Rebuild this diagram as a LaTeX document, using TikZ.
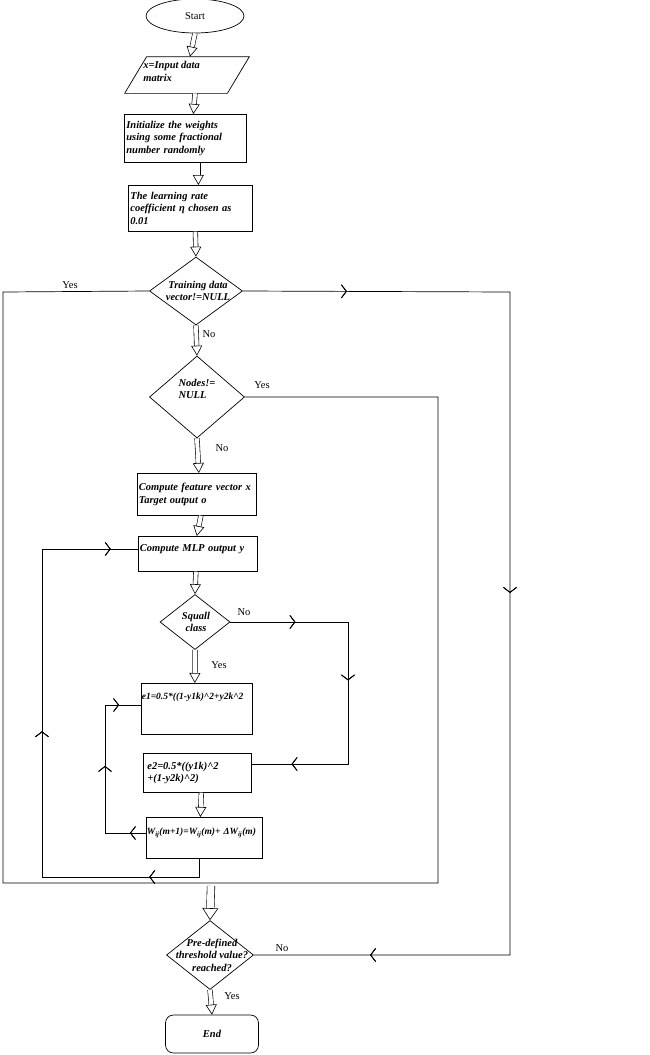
\documentclass[tikz,border=0pt]{standalone}
\usepackage{fontspec}
\setmainfont{Liberation Serif}
\usetikzlibrary{shapes.geometric,arrows.meta,decorations.markings}
\begin{document}
\begin{tikzpicture}[x=1pt,y=-1pt,line width=0.7pt,
  box/.style={draw,rectangle,anchor=north west,inner sep=1.5pt,align=left,font=\fontsize{10.5}{12.5}\selectfont\bfseries\itshape},
  dia/.style={draw,diamond,inner sep=0pt},
  dtext/.style={align=center,font=\fontsize{10.5}{12.5}\selectfont\bfseries\itshape,inner sep=0pt},
  lab/.style={font=\fontsize{10.5}{12}\selectfont,inner sep=0pt},
  harrow/.style={double distance=4pt,line width=0.6pt,-{Triangle[fill=white,length=10pt,width=11pt,line width=0.6pt]},shorten >=0pt},
  mk/.style={postaction=decorate,decoration={markings,mark=at position #1 with {\arrow[line width=0.7pt]{Straight Barb[length=5pt,width=13pt]}}}}]
\useasboundingbox (0,0) rectangle (649,1055);
% nodes
\node[draw,ellipse,minimum width=98pt,minimum height=34pt,inner sep=0pt,font=\fontsize{10.5}{12}\selectfont] (start) at (195,16) {Start};
\node[minimum width=100pt,minimum height=36pt,inner sep=0pt] (inp) at (187,75) {};
\draw ([xshift=10pt]inp.north west) -- ([xshift=12pt]inp.north east) -- ([xshift=-10pt]inp.south east) -- ([xshift=-12pt]inp.south west) -- cycle;
\node[dtext,align=left,anchor=north west] (inpt) at (143,61) {x=Input data\\matrix};
\node[box,minimum width=122pt,minimum height=48pt,text width=118pt,anchor=north west] (init) at (124,114) {Initialize the weights\\using some fractional\\number randomly};
\node[box,minimum width=124pt,minimum height=46pt,text width=120pt] (lr) at (128,185) {The learning rate\\coefficient η chosen as\\0.01};
\node[dia,minimum width=93pt,minimum height=68pt] (d1) at (196,291) {};
\node[dtext] (d1t) at (198,291) {Training data\\vector!=NULL};
\node[dia,minimum width=95pt,minimum height=82pt] (d2) at (197,397) {};
\node[dtext,align=left] (d2t) at (197,389) {Nodes!=\\NULL};
\node[box,minimum width=118pt,minimum height=42pt,text width=116pt] (feat) at (137,473) {Compute feature vector x\\Target output o};
\node[box,minimum width=119pt,minimum height=35pt,text width=116pt,anchor=north west] (mlp) at (138,536) {Compute MLP output y\\\mbox{}};
\node[dia,minimum width=70pt,minimum height=55pt] (sq) at (195,622) {};
\node[dtext] (sqt) at (196,622) {Squall\\class};
\node[box,minimum width=111pt,minimum height=51pt,text width=110pt,inner sep=0.5pt,font=\fontsize{9.5}{12.5}\selectfont\bfseries\itshape] (e1) at (141,683) {e1=0.5*((1-y1k)\^{}2+y2k\^{}2\\\mbox{}\\\mbox{}};
\node[box,minimum width=107pt,minimum height=39pt,text width=100pt,inner xsep=4pt] (e2) at (143,753) {e2=0.5*((y1k)\^{}2\\+(1-y2k)\^{}2)};
\node[box,minimum width=116pt,minimum height=41pt,text width=115pt,inner sep=0.5pt,font=\fontsize{9.5}{12.5}\selectfont\bfseries\itshape] (w) at (146,817) {W\textsubscript{ij}(m+1)=W\textsubscript{ij}(m)+ ΔW\textsubscript{ij}(m)\\\mbox{}};
\node[dia,minimum width=87pt,minimum height=69pt] (thr) at (210,955) {};
\node[dtext] (thrt) at (212,955) {Pre-defined\\threshold value?\\reached?};
\node[draw,rectangle,rounded corners=8pt,minimum width=93pt,minimum height=38pt,font=\fontsize{10.5}{12}\selectfont\bfseries\itshape] (end) at (212,1034) {End};
% coordinates
\coordinate (rt1) at (510,292); \coordinate (rt2) at (510,955);
\coordinate (n1) at (438,397); \coordinate (n2) at (438,883);
\coordinate (l1) at (3,883); \coordinate (l2) at (3,292);
\coordinate (o1) at (199,877); \coordinate (o2) at (42,877); \coordinate (o3) at (42,549);
\coordinate (i1) at (105,833); \coordinate (i2) at (105,705);
\coordinate (s1) at (348,622); \coordinate (s2) at (348,764);
\coordinate (bigtop) at (211,886);
% hollow arrows
\draw[harrow] (start.south) -- ([xshift=3pt]inp.north);
\draw[harrow] ([xshift=8pt]inp.south) -- ([xshift=8pt]init.north);
\draw[harrow] ([xshift=13pt]init.south) -- ([xshift=8pt]lr.north);
\draw[harrow] ([xshift=5pt]lr.south) -- (d1.north);
\draw[harrow] (d1.south) -- (d2.north);
\draw[harrow] (d2.south) -- ([xshift=2pt]feat.north);
\draw[harrow] ([xshift=4pt]feat.south) -- ([xshift=-1pt]mlp.north);
\draw[harrow] ([xshift=-2pt]mlp.south) -- (sq.north);
\draw[harrow] (sq.south) -- ([xshift=-2pt]e1.north);
\draw[harrow] ([xshift=4pt]e2.south) -- ([xshift=-4pt]w.north);
\draw[harrow,double distance=7pt,-{Triangle[fill=white,length=12pt,width=16pt,line width=0.6pt]}] (bigtop) -- (thr.north);
\draw[harrow] (thr.south) -- (end.north);
% connectors
\draw[mk=104pt,mk=568pt,mk=1070pt] (d1.east) -- (rt1) -- (rt2) -- (thr.east);
\draw (d1.west) -- (l2) -- (l1) -- (n2) -- (n1) -- (d2.east);
\draw[mk=68pt,mk=321pt,mk=572pt] (o1 |- w.south) -- (o1) -- (o2) -- (o3) -- (o3 -| mlp.west);
\draw[mk=16pt,mk=108pt,mk=183pt] (i1 -| w.west) -- (i1) -- (i2) -- (i2 -| e1.west);
\draw[mk=65pt,mk=176pt,mk=316pt] (sq.east) -- (s1) -- (s2) -- (s2 -| e2.east);
% labels
\node[lab] (ly1) at (70,285) {Yes};
\node[lab] (ln1) at (209,334) {No};
\node[lab] (ly2) at (262,385) {Yes};
\node[lab] (ln2) at (222,448) {No};
\node[lab] (ln3) at (244,612) {No};
\node[lab] (ly3) at (219,665) {Yes};
\node[lab] (ln4) at (282,948) {No};
\node[lab] (ly4) at (232,996) {Yes};
\end{tikzpicture}
\end{document}
